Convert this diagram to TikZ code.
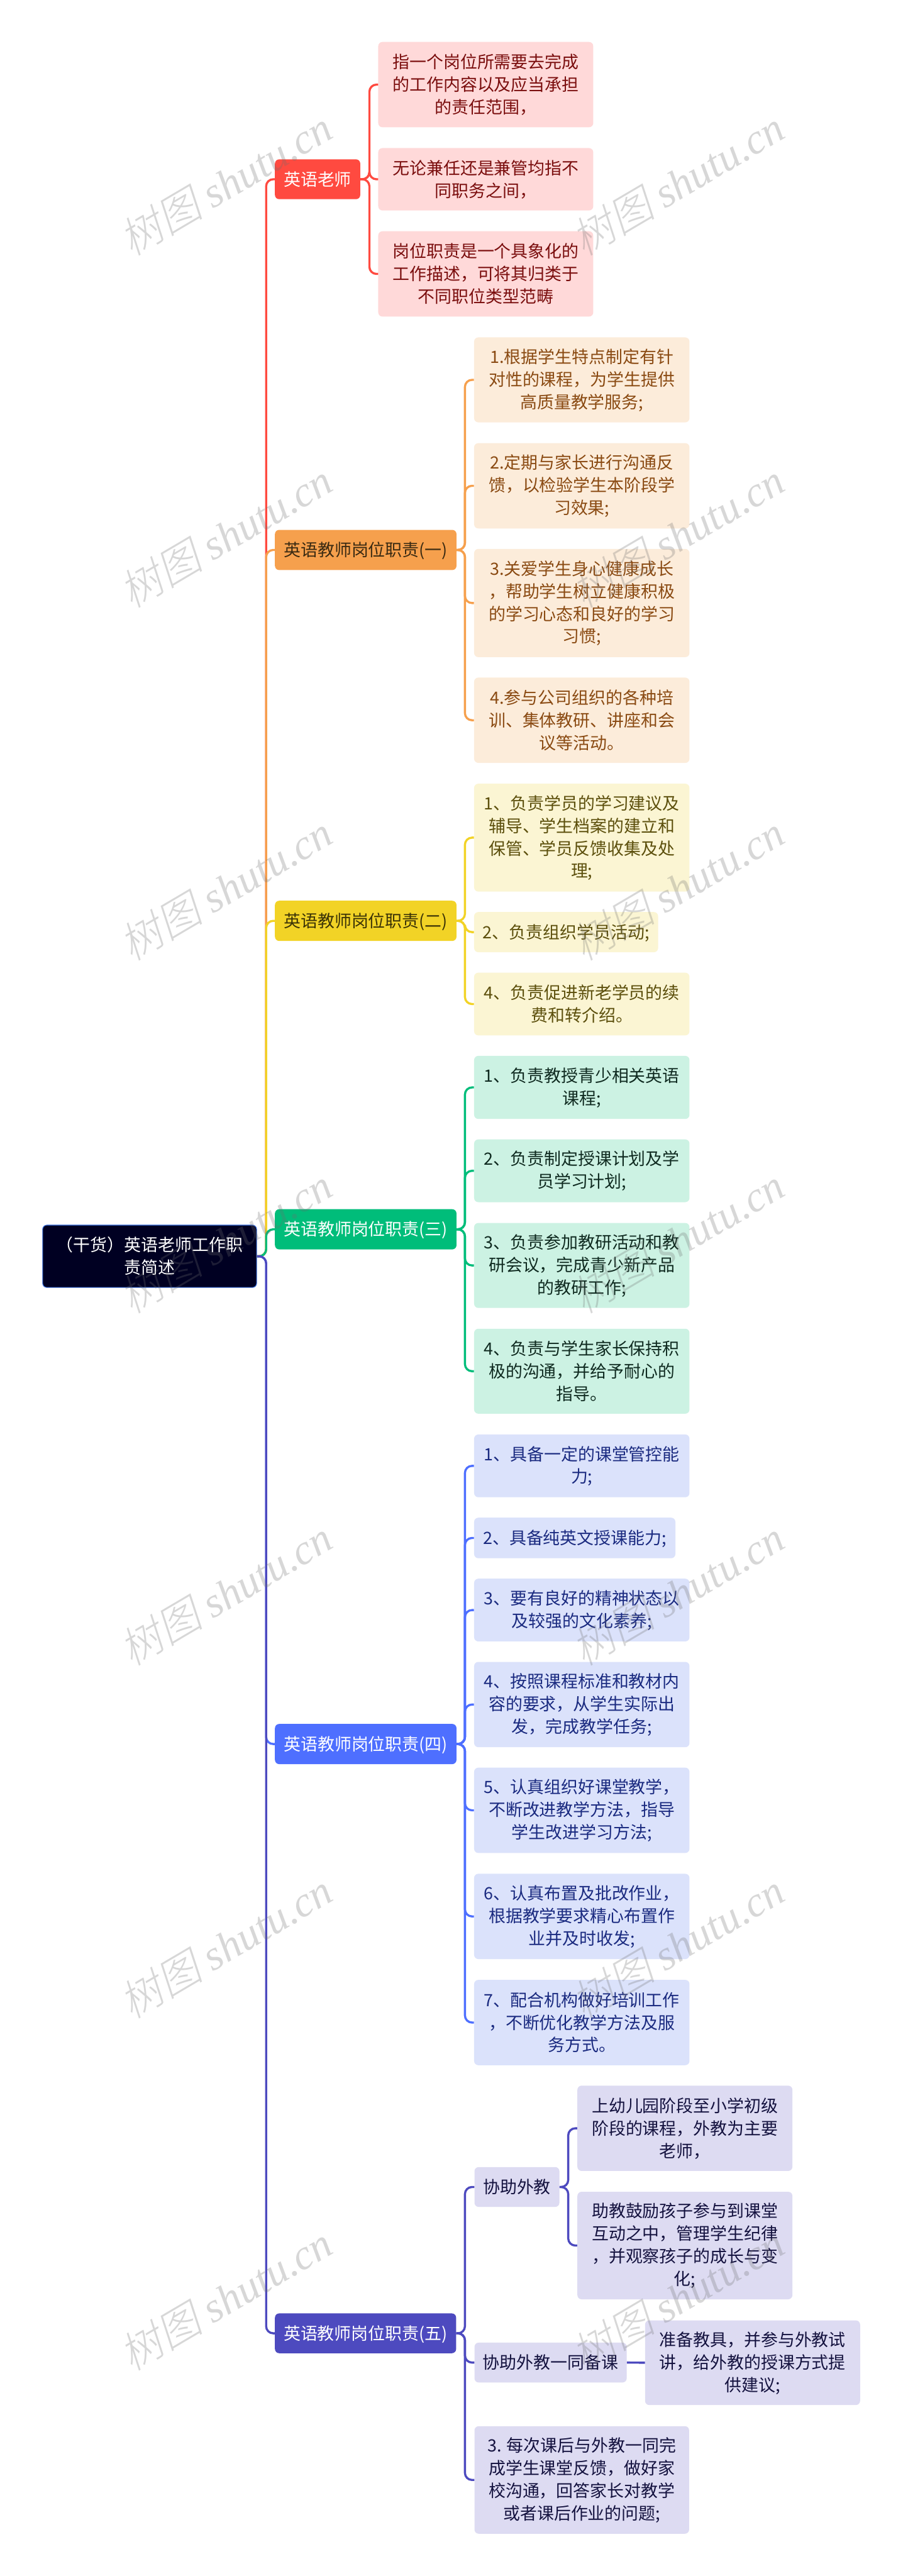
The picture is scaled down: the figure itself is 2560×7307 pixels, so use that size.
\documentclass[tikz,border=0pt]{standalone}
\usepackage{fontspec}
\setmainfont{Noto Sans CJK SC}
\newfontfamily\wmcjk[FakeSlant=0.22]{Noto Sans CJK SC Light}
\newfontfamily\wmlat{Liberation Serif}
\definecolor{rootfill}{HTML}{000022}
\definecolor{rootline}{HTML}{3B72E0}
\definecolor{cR}{HTML}{FF4A40}\definecolor{bR}{HTML}{FFD9D9}\definecolor{tR}{HTML}{7A0D0D}
\definecolor{cO}{HTML}{F6A04D}\definecolor{bO}{HTML}{FCECDA}\definecolor{tO}{HTML}{8A4A12}\definecolor{nO}{HTML}{3A2A12}
\definecolor{cY}{HTML}{F2D326}\definecolor{bY}{HTML}{FBF5D3}\definecolor{tY}{HTML}{5C4F0C}\definecolor{nY}{HTML}{3B3306}
\definecolor{cG}{HTML}{00BD7A}\definecolor{bG}{HTML}{CCF2E3}\definecolor{tG}{HTML}{0F2A20}
\definecolor{cB}{HTML}{4E6FFF}\definecolor{bB}{HTML}{DBE2FB}\definecolor{tB}{HTML}{1A2A80}
\definecolor{cP}{HTML}{4D4ABF}\definecolor{bP}{HTML}{DDDBF2}\definecolor{tP}{HTML}{14123F}
\tikzset{
  basebox/.style={rectangle,inner sep=0pt,align=center,rounded corners=6pt,font=\fontsize{24pt}{32pt}\selectfont},
  oneline/.style={text height=21pt,text depth=3pt},
  rootbox/.style={basebox,fill=rootfill,draw=rootline,line width=1pt,text=white},
  nR/.style={basebox,oneline,fill=cR,text=white},
  nO/.style={basebox,oneline,fill=cO,text=nO},
  nY/.style={basebox,oneline,fill=cY,text=nY},
  nG/.style={basebox,oneline,fill=cG,text=white},
  nB/.style={basebox,oneline,fill=cB,text=white},
  nP/.style={basebox,oneline,fill=cP,text=white},
  lR/.style={basebox,fill=bR,text=tR},
  lO/.style={basebox,fill=bO,text=tO},
  lY/.style={basebox,fill=bY,text=tY},
  lG/.style={basebox,fill=bG,text=tG},
  lB/.style={basebox,fill=bB,text=tB},
  lP/.style={basebox,fill=bP,text=tP},
  link/.style={line width=3pt,rounded corners=10pt},
  mark text/.style={rotate=30.5,text=black!57,text opacity=.27,font=\fontsize{60pt}{60pt}\selectfont}
}
% name, style, x1, y1, x2, y2, text (pixel coordinates of the reference)
\newcommand\bx[7]{\node[#2,minimum width={(#5-#3)*0.5pt},minimum height={(#6-#4)*0.5pt}] (#1) at ({(#3+#5)/2},{(#4+#6)/2}) {\rule{0pt}{21pt}#7\rule[-3pt]{0pt}{3pt}};}
% colour, from, to, x-coordinate name of the vertical run
\newcommand\lnk[4]{\draw[link,#1] (#2.east) -- (#4|-#2.east) -- (#4|-#3.west) -- (#3.west);}
\begin{document}
\begin{tikzpicture}[x=0.5pt,y=-0.5pt]
\fill[white] (0,0) rectangle (2560,7307);
\useasboundingbox (0,0) rectangle (2560,7307);
\coordinate (T0) at (755,0);
\coordinate (TR) at (1048,0);
\coordinate (TS) at (1319,0);
\coordinate (TA) at (1612,0);

\bx{root}{rootbox}{121}{3475}{728}{3652}{（干货）英语老师工作职\\责简述}

\bx{nr}{nR}{780}{452}{1022}{565}{英语老师}
\bx{r1}{lR}{1073}{119}{1683}{361}{指一个岗位所需要去完成\\的工作内容以及应当承担\\的责任范围，}
\bx{r2}{lR}{1073}{420}{1683}{597}{无论兼任还是兼管均指不\\同职务之间，}
\bx{r3}{lR}{1073}{656}{1683}{898}{岗位职责是一个具象化的\\工作描述，可将其归类于\\不同职位类型范畴}

\bx{no}{nO}{780}{1503}{1295}{1617}{英语教师岗位职责(一)}
\bx{o1}{lO}{1345}{957}{1956}{1198}{1.根据学生特点制定有针\\对性的课程，为学生提供\\高质量教学服务;}
\bx{o2}{lO}{1345}{1257}{1956}{1499}{2.定期与家长进行沟通反\\馈，以检验学生本阶段学\\习效果;}
\bx{o3}{lO}{1345}{1557}{1956}{1864}{3.关爱学生身心健康成长\\，帮助学生树立健康积极\\的学习心态和良好的学习\\习惯;}
\bx{o4}{lO}{1345}{1922}{1956}{2164}{4.参与公司组织的各种培\\训、集体教研、讲座和会\\议等活动。}

\bx{ny}{nY}{780}{2555}{1295}{2669}{英语教师岗位职责(二)}
\bx{y1}{lY}{1345}{2223}{1956}{2529}{1、负责学员的学习建议及\\辅导、学生档案的建立和\\保管、学员反馈收集及处\\理;}
\bx{y2}{lY,oneline}{1345}{2587}{1867}{2701}{2、负责组织学员活动;}
\bx{y3}{lY}{1345}{2759}{1956}{2937}{4、负责促进新老学员的续\\费和转介绍。}

\bx{ng}{nG}{780}{3430}{1295}{3544}{英语教师岗位职责(三)}
\bx{g1}{lG}{1345}{2995}{1956}{3174}{1、负责教授青少相关英语\\课程;}
\bx{g2}{lG}{1345}{3232}{1956}{3410}{2、负责制定授课计划及学\\员学习计划;}
\bx{g3}{lG}{1345}{3469}{1956}{3710}{3、负责参加教研活动和教\\研会议，完成青少新产品\\的教研工作;}
\bx{g4}{lG}{1345}{3769}{1956}{4010}{4、负责与学生家长保持积\\极的沟通，并给予耐心的\\指导。}

\bx{nb}{nB}{780}{4890}{1295}{5004}{英语教师岗位职责(四)}
\bx{b1}{lB}{1345}{4069}{1956}{4247}{1、具备一定的课堂管控能\\力;}
\bx{b2}{lB,oneline}{1345}{4305}{1916}{4420}{2、具备纯英文授课能力;}
\bx{b3}{lB}{1345}{4478}{1956}{4656}{3、要有良好的精神状态以\\及较强的文化素养;}
\bx{b4}{lB}{1345}{4714}{1956}{4956}{4、按照课程标准和教材内\\容的要求，从学生实际出\\发，完成教学任务;}
\bx{b5}{lB}{1345}{5014}{1956}{5256}{5、认真组织好课堂教学，\\不断改进教学方法，指导\\学生改进学习方法;}
\bx{b6}{lB}{1345}{5315}{1956}{5557}{6、认真布置及批改作业，\\根据教学要求精心布置作\\业并及时收发;}
\bx{b7}{lB}{1345}{5616}{1956}{5858}{7、配合机构做好培训工作\\，不断优化教学方法及服\\务方式。}

\bx{np}{nP}{780}{6562}{1294}{6675}{英语教师岗位职责(五)}
\bx{p1}{lP,oneline}{1346}{6147}{1587}{6260}{协助外教}
\bx{p1a}{lP}{1638}{5916}{2248}{6158}{上幼儿园阶段至小学初级\\阶段的课程，外教为主要\\老师，}
\bx{p1b}{lP}{1638}{6217}{2248}{6522}{助教鼓励孩子参与到课堂\\互动之中，管理学生纪律\\，并观察孩子的成长与变\\化;}
\bx{p2}{lP,oneline}{1346}{6645}{1778}{6758}{协助外教一同备课}
\bx{p2a}{lP}{1830}{6582}{2440}{6822}{准备教具，并参与外教试\\讲，给外教的授课方式提\\供建议;}
\bx{p3}{lP}{1346}{6882}{1955}{7187}{3. 每次课后与外教一同完\\成学生课堂反馈，做好家\\校沟通，回答家长对教学\\或者课后作业的问题;}

% children
\foreach \c in {r1,r2,r3} {\lnk{cR}{nr}{\c}{TR}}
\foreach \c in {o1,o2,o3,o4} {\lnk{cO}{no}{\c}{TS}}
\foreach \c in {y1,y2,y3} {\lnk{cY}{ny}{\c}{TS}}
\foreach \c in {g1,g2,g3,g4} {\lnk{cG}{ng}{\c}{TS}}
\foreach \c in {b1,b2,b3,b4,b5,b6,b7} {\lnk{cB}{nb}{\c}{TS}}
\foreach \c in {p1,p2,p3} {\lnk{cP}{np}{\c}{TS}}
\foreach \c in {p1a,p1b} {\lnk{cP}{p1}{\c}{TA}}
\draw[link,cP] (p2.east) -- (p2a.west);

% main trunk, colours stacked as in the reference
\foreach \n/\k in {nr/cR,no/cO,ny/cY,ng/cG,nb/cB,np/cP} {
  \draw[link,\k] (root.east) -- (T0|-root.east) -- (T0|-\n.west) -- (\n.west);
}

% watermark
\foreach \i in {0,...,6} {
  \foreach \j in {0,1} {
    \node[mark text] (wm\i\j) at ({640+1282*\j},{519+1000*\i}) {{\wmcjk 树图} {\wmlat\itshape shutu.cn}};
  }
}
\end{tikzpicture}
\end{document}
